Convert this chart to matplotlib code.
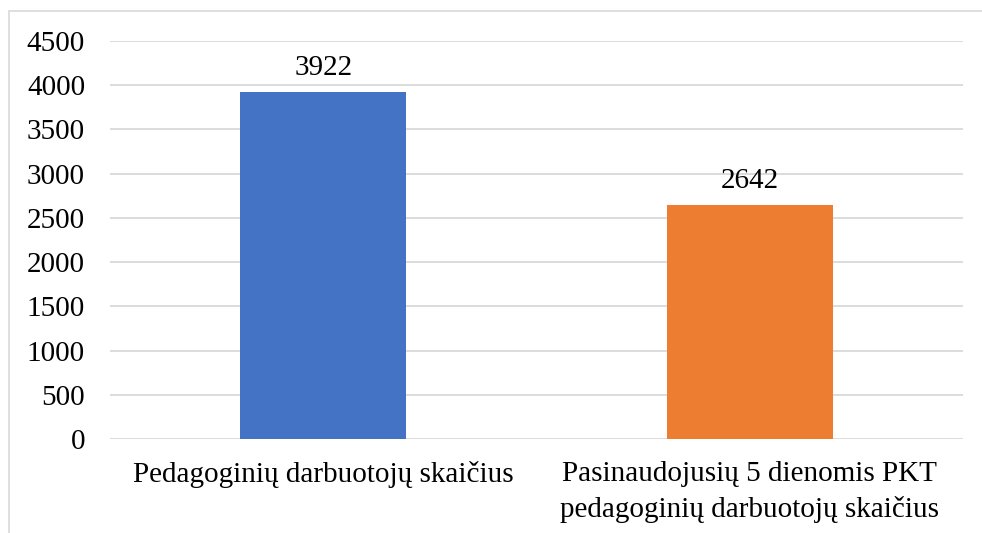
import matplotlib
matplotlib.use("Agg")
import matplotlib.pyplot as plt
from matplotlib.patches import Rectangle

categories = ["Pedagoginių darbuotojų skaičius",
              "Pasinaudojusių 5 dienomis PKT\npedagoginių darbuotojų skaičius"]
values = [3922, 2642]
colors = ["#4472C4", "#ED7D31"]
yticks = [0, 500, 1000, 1500, 2000, 2500, 3000, 3500, 4000, 4500]

plt.rcParams['font.family'] = ['Liberation Serif', 'DejaVu Serif']

fig = plt.figure(figsize=(9.82, 5.33), dpi=100)
ax = fig.add_axes([110/982, 1-439/533, (963-110)/982, (439-41)/533])

x = list(range(len(categories)))
ax.bar(x, values, width=0.39, color=colors, zorder=3)
ax.set_xlim(-0.5, 1.5)
ax.set_ylim(0, 4500)
ax.set_yticks(yticks)
ax.set_yticklabels([str(t) for t in yticks], fontsize=21)
ax.set_xticks(x)
ax.set_xticklabels(categories, fontsize=21, linespacing=1.4)
ax.tick_params(axis='both', length=0)
ax.tick_params(axis='y', pad=18)
ax.tick_params(axis='x', pad=16)
ax.grid(axis='y', color='#D9D9D9', linewidth=1.3, zorder=0)
for s in ax.spines.values():
    s.set_visible(False)

for xi, v in zip(x, values):
    ax.annotate(str(v), (xi, v), xytext=(0, 8), textcoords='offset points',
                ha='center', va='bottom', fontsize=21)

fig.patches.append(Rectangle((9/982, -0.1), 1.2, 1-11/533+0.1, transform=fig.transFigure,
                             fill=False, edgecolor='#D9D9D9', linewidth=1.2, clip_on=False))

fig.savefig("out.png", dpi=100)
